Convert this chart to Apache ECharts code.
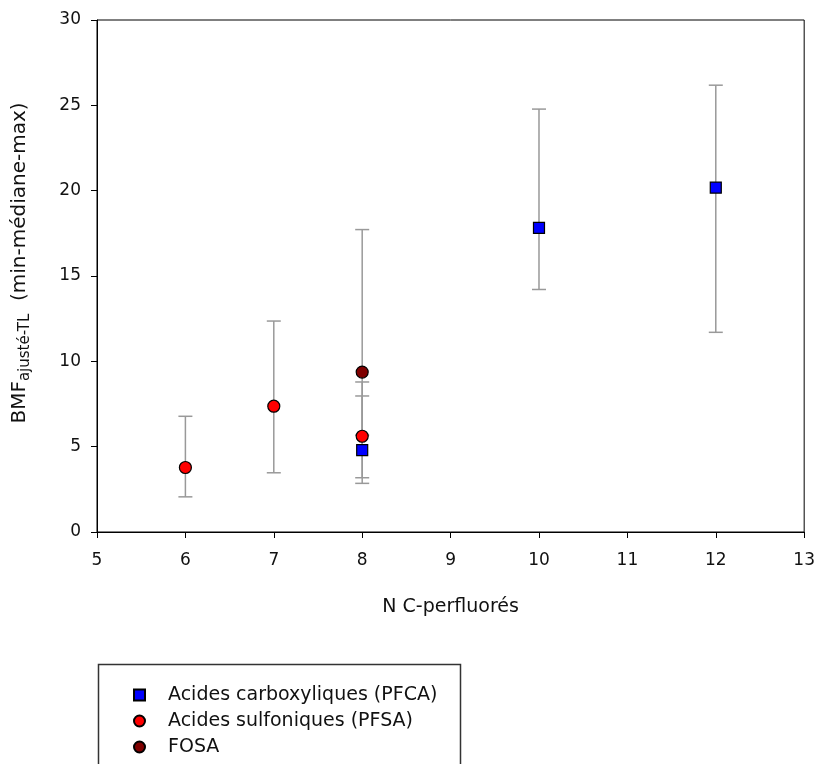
<!DOCTYPE html>
<html>
<head>
<meta charset="utf-8">
<script src="https://cdn.jsdelivr.net/npm/echarts@6/dist/echarts.min.js"></script>
<style>html,body{margin:0;padding:0;background:#fff}#c{width:818px;height:764px}</style>
</head>
<body>
<div id="c"></div>
<script>
// Data
const xTicks = [5, 6, 7, 8, 9, 10, 11, 12, 13];
const yTicks = [0, 5, 10, 15, 20, 25, 30];

const pfcaX = [8, 10, 12];
const pfcaMed = [4.80, 17.82, 20.18];
const pfcaMin = [2.85, 14.21, 11.70];
const pfcaMax = [7.97, 24.78, 26.18];

const pfsaX = [6, 7, 8];
const pfsaMed = [3.78, 7.37, 5.61];
const pfsaMin = [2.06, 3.47, 3.18];
const pfsaMax = [6.78, 12.36, 8.79];

const fosaX = [8];
const fosaMed = [9.37];
const fosaMin = [5.67];
const fosaMax = [17.72];

const names = ['Acides carboxyliques (PFCA)', 'Acides sulfoniques (PFSA)', 'FOSA'];
const FONT = 'DejaVu Sans';

function pts(xs, ys) { return xs.map((x, i) => [x, ys[i]]); }
function errData(xs, mins, maxs) { return xs.map((x, i) => [x, mins[i], maxs[i]]); }

function errSeries(data) {
  return {
    type: 'custom',
    z: 1,
    silent: true,
    data: data,
    encode: { x: 0, y: [1, 2] },
    renderItem: function (params, api) {
      const x = api.value(0);
      const lo = api.coord([x, api.value(1)]);
      const hi = api.coord([x, api.value(2)]);
      const hw = 7;
      const st = { stroke: '#999999', lineWidth: 1.5 };
      return {
        type: 'group',
        children: [
          { type: 'line', shape: { x1: lo[0], y1: lo[1], x2: hi[0], y2: hi[1] }, style: st },
          { type: 'line', shape: { x1: lo[0] - hw, y1: lo[1], x2: lo[0] + hw, y2: lo[1] }, style: st },
          { type: 'line', shape: { x1: hi[0] - hw, y1: hi[1], x2: hi[0] + hw, y2: hi[1] }, style: st }
        ]
      };
    }
  };
}

const chart = echarts.init(document.getElementById('c'), null, { renderer: 'canvas' });
chart.setOption({
  animation: false,
  backgroundColor: '#fff',
  textStyle: { fontFamily: FONT },
  grid: { left: 96, right: 10, top: 20, bottom: 232, show: true, borderColor: '#000', borderWidth: 1, backgroundColor: 'transparent' },
  xAxis: {
    type: 'value', min: xTicks[0], max: xTicks[xTicks.length - 1], interval: 1,
    name: 'N C-perfluorés', nameLocation: 'middle', nameGap: 66,
    nameTextStyle: { fontSize: 19, color: '#111', fontFamily: FONT },
    axisLine: { show: true, lineStyle: { color: '#000', width: 1 } },
    axisTick: { show: true, length: 6, lineStyle: { color: '#000' } },
    axisLabel: { fontSize: 17, color: '#111', margin: 20, fontFamily: FONT },
    splitLine: { show: false }
  },
  yAxis: {
    type: 'value', min: yTicks[0], max: yTicks[yTicks.length - 1], interval: 5,
    name: '{m|BMF}{s|ajusté-TL}{m|  (min-médiane-max)}',
    nameLocation: 'middle', nameGap: 64, nameRotate: 90,
    nameTextStyle: {
      fontFamily: FONT,
      padding: [0, 0, 0, 26],
      rich: {
        m: { fontSize: 20, color: '#111', fontFamily: FONT, lineHeight: 26, verticalAlign: 'middle' },
        s: { fontSize: 15, color: '#111', fontFamily: FONT, lineHeight: 26, verticalAlign: 'bottom', padding: [10, 0, 0, 0] }
      }
    },
    axisLine: { show: true, lineStyle: { color: '#000', width: 1 } },
    axisTick: { show: true, length: 6, lineStyle: { color: '#000' } },
    axisLabel: { fontSize: 17, color: '#111', margin: 16, fontFamily: FONT },
    splitLine: { show: false }
  },
  legend: {
    orient: 'vertical', left: 128, top: 679,
    itemWidth: 11, itemHeight: 11, itemGap: 4,
    textStyle: { fontSize: 19, color: '#111', fontFamily: FONT, lineHeight: 22, padding: [0, 0, 0, 18] },
    data: [
      { name: names[0], icon: 'rect' },
      { name: names[1], icon: 'circle' },
      { name: names[2], icon: 'circle' }
    ]
  },
  graphic: [
    { type: 'rect', left: 96, top: 662, shape: { width: 362, height: 130 }, style: { fill: 'none', stroke: '#333', lineWidth: 1.5 }, z: -1 }
  ],
  series: [
    errSeries(errData(pfcaX, pfcaMin, pfcaMax)),
    errSeries(errData(pfsaX, pfsaMin, pfsaMax)),
    errSeries(errData(fosaX, fosaMin, fosaMax)),
    {
      name: names[0], type: 'scatter', z: 3, symbol: 'rect', symbolSize: 11,
      itemStyle: { color: '#0000ff', borderColor: '#000', borderWidth: 1.2, opacity: 1 },
      data: pts(pfcaX, pfcaMed)
    },
    {
      name: names[1], type: 'scatter', z: 3, symbol: 'circle', symbolSize: 12,
      itemStyle: { color: '#ff0000', borderColor: '#000', borderWidth: 1.2, opacity: 1 },
      data: pts(pfsaX, pfsaMed)
    },
    {
      name: names[2], type: 'scatter', z: 3, symbol: 'circle', symbolSize: 12,
      itemStyle: { color: '#7f0000', borderColor: '#000', borderWidth: 1.2, opacity: 1 },
      data: pts(fosaX, fosaMed)
    }
  ]
});
</script>
</body>
</html>
